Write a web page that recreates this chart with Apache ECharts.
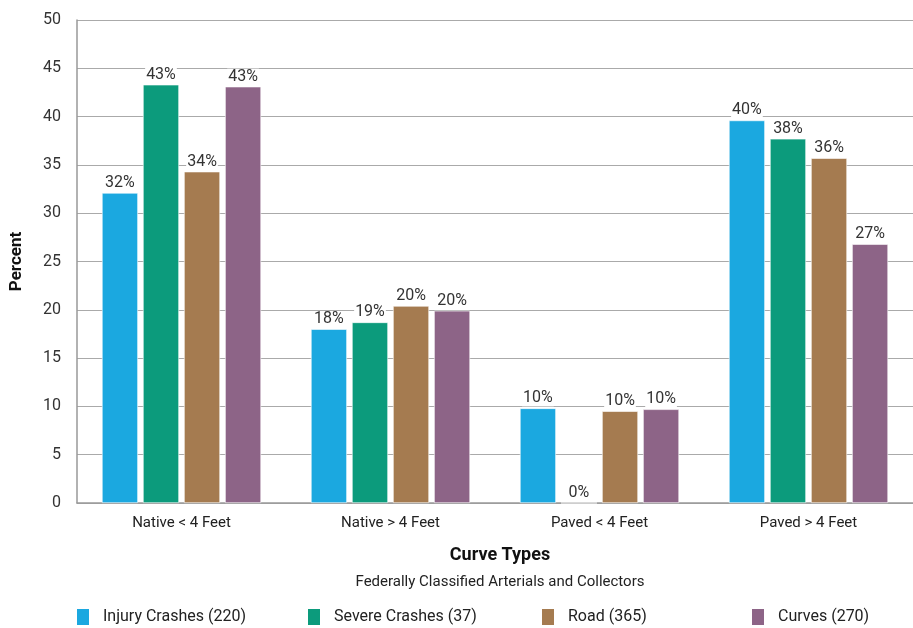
<!DOCTYPE html>
<html>
<head>
<meta charset="utf-8">
<script src="https://cdn.jsdelivr.net/npm/echarts@6/dist/echarts.min.js"></script>
<style>
  html, body { margin: 0; padding: 0; background: #fff; }
  #chart { width: 913px; height: 628px; }
</style>
</head>
<body>
<div id="chart"></div>
<script>
// Curve types along the x axis
const categories = ['Native < 4 Feet', 'Native > 4 Feet', 'Paved < 4 Feet', 'Paved > 4 Feet'];

// Percent of each group falling in each curve type
const injuryCrashes = [32.1, 18.0, 9.8, 39.6];
const severeCrashes = [43.3, 18.7, 0, 37.7];
const roads = [34.3, 20.4, 9.5, 35.7];
const curves = [43.1, 19.9, 9.7, 26.8];

const seriesNames = ['Injury Crashes (220)', 'Severe Crashes (37)', 'Road (365)', 'Curves (270)'];
const seriesColors = ['#1BA8E0', '#0C9B7C', '#A57B50', '#8D6487'];
const seriesData = [injuryCrashes, severeCrashes, roads, curves];

// Value axis ticks
const yTicks = [0, 5, 10, 15, 20, 25, 30, 35, 40, 45, 50];

const FONT = 'Roboto';
const legendLefts = [75, 306, 540, 750];

const chart = echarts.init(document.getElementById('chart'), null, { renderer: 'canvas' });

chart.setOption({
  animation: false,
  backgroundColor: '#fff',
  textStyle: { fontFamily: FONT },
  grid: { left: 74, right: 0, top: 20, bottom: 125, containLabel: false },
  title: [
    {
      text: 'Curve Types',
      left: 495, top: 541, textAlign: 'center',
      textStyle: { fontFamily: FONT, fontSize: 18, fontWeight: 'bold', color: '#111' }
    },
    {
      text: 'Federally Classified Arterials and Collectors',
      left: 495, top: 570, textAlign: 'center',
      textStyle: { fontFamily: FONT, fontSize: 15, fontWeight: 'normal', color: '#222' }
    }
  ],
  // one legend per series so each entry sits at its own column
  legend: seriesNames.map((n, i) => ({
    data: [n],
    left: legendLefts[i],
    bottom: 1,
    padding: 0,
    itemWidth: 14, itemHeight: 18,
    icon: 'rect',
    textStyle: { fontFamily: FONT, fontSize: 16, color: '#222', padding: [0, 0, 0, 8] }
  })),
  xAxis: {
    type: 'category',
    data: categories,
    axisLine: { lineStyle: { color: '#999', width: 1.5 } },
    axisTick: { show: false },
    axisLabel: { fontFamily: FONT, fontSize: 15, color: '#222', margin: 13 }
  },
  yAxis: {
    type: 'value',
    min: yTicks[0],
    max: yTicks[yTicks.length - 1],
    interval: yTicks[1] - yTicks[0],
    name: 'Percent',
    nameLocation: 'middle',
    nameGap: 52,
    nameRotate: 90,
    nameTextStyle: { fontFamily: FONT, fontSize: 17, fontWeight: 'bold', color: '#111' },
    axisLine: { show: true, lineStyle: { color: '#999', width: 1.5 } },
    axisTick: { show: false },
    splitLine: { lineStyle: { color: '#aaa', width: 1.2 } },
    axisLabel: { fontFamily: FONT, fontSize: 16, color: '#333', margin: 16 }
  },
  series: seriesData.map((d, i) => ({
    name: seriesNames[i],
    type: 'bar',
    data: d,
    barWidth: 36,
    barGap: '14%',
    itemStyle: { color: seriesColors[i], borderColor: '#fff', borderWidth: 0.6 },
    label: {
      show: true,
      position: 'top',
      distance: 2,
      fontFamily: FONT,
      fontSize: 16,
      color: '#333',
      backgroundColor: '#fff',
      padding: [0, 1, 0, 1],
      formatter: p => Math.round(p.value) + '%'
    }
  }))
});
</script>
</body>
</html>
